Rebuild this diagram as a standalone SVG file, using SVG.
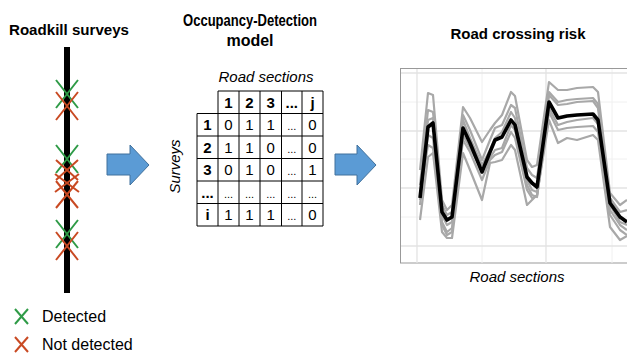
<svg xmlns="http://www.w3.org/2000/svg" width="627" height="355" viewBox="0 0 627 355">
<style>
.t{font-family:"Liberation Sans",Arial,sans-serif;fill:#000}
.b{font-weight:bold}
.i{font-style:italic}
.g{stroke:#2f9b47;stroke-width:2;fill:none}
.r{stroke:#c94a23;stroke-width:2;fill:none}
.arrow{fill:#5b9bd5;stroke:#41719c;stroke-width:1}
.cell{fill:none;stroke:#000;stroke-width:1}
.mj{stroke:#e3e3e3;stroke-width:1.3}
.mn{stroke:#f0f0f0;stroke-width:1}
.grey{fill:none;stroke:#a8a8a8;stroke-width:2.2;stroke-linejoin:round}
.blk{fill:none;stroke:#000;stroke-width:3.6;stroke-linejoin:round}
</style>
<defs>
<clipPath id="plotclip"><rect x="401" y="69" width="226" height="194"/></clipPath>
</defs>

<g id="roadkill-surveys">
<text class="t b" x="9" y="35" font-size="15" textLength="120" lengthAdjust="spacingAndGlyphs">Roadkill surveys</text>
<rect x="64" y="47" width="6" height="246" fill="#000"/>
<path class="g" d="M56 80L78 108M78 80L56 108"/>
<path class="r" d="M56 92L78 120M78 92L56 120"/>
<path class="g" d="M56 145L78 173M78 145L56 173"/>
<path class="r" d="M56 160L78 180M78 160L56 180"/>
<path class="r" d="M55 174L79 192M79 174L55 192"/>
<path class="r" d="M56 181L78 208M78 181L56 208"/>
<path class="g" d="M56 220L78 248M78 220L56 248"/>
<path class="r" d="M56 232L78 260M78 232L56 260"/>
</g>

<g id="legend">
<path class="g" d="M15 309L28 324M28 309L15 324" stroke-width="1.4"/>
<text class="t" x="42" y="322" font-size="16">Detected</text>
<path class="r" d="M15 337L28 352M28 337L15 352" stroke-width="1.4"/>
<text class="t" x="42" y="350" font-size="16">Not detected</text>
</g>

<g id="connectors">
<polygon class="arrow" points="107,154 130,154 130,145 149,165 130,185 130,175 107,175"/>
<polygon class="arrow" points="335,154 357,154 357,145 376,165 357,185 357,175 335,175"/>
</g>

<g id="occupancy-model">
<text class="t b" x="250" y="26" font-size="16" text-anchor="middle" textLength="134" lengthAdjust="spacingAndGlyphs">Occupancy-Detection</text>
<text class="t b" x="250" y="46" font-size="16" text-anchor="middle">model</text>
<text class="t i" x="266" y="82" font-size="15" text-anchor="middle">Road sections</text>
<text class="t i" transform="translate(180,166.5) rotate(-90)" font-size="15" text-anchor="middle">Surveys</text>
<g>
<path class="cell" d="M218 91H323V226H197V113.5H323M197 136H323M197 158.5H323M197 181H323M197 203.5H323M218 91V226M239 91V226M260 91V226M281.5 91V226M302 91V226"/>
</g>
<g class="t" font-size="15" text-anchor="middle">
<g class="b">
<text x="228.5" y="107.5">1</text><text x="249.5" y="107.5">2</text><text x="270.75" y="107.5">3</text><text x="291.75" y="107.5">...</text><text x="312.5" y="107.5">j</text>
<text x="207.5" y="130">1</text><text x="207.5" y="152.5">2</text><text x="207.5" y="175">3</text><text x="207.5" y="197.5">...</text><text x="207.5" y="220">i</text>
</g>
<text x="228.5" y="130">0</text><text x="249.5" y="130">1</text><text x="270.75" y="130">1</text><text x="291.75" y="130" font-size="11">...</text><text x="312.5" y="130">0</text>
<text x="228.5" y="152.5">1</text><text x="249.5" y="152.5">1</text><text x="270.75" y="152.5">0</text><text x="291.75" y="152.5" font-size="11">...</text><text x="312.5" y="152.5">0</text>
<text x="228.5" y="175">0</text><text x="249.5" y="175">1</text><text x="270.75" y="175">0</text><text x="291.75" y="175" font-size="11">...</text><text x="312.5" y="175">1</text>
<text x="228.5" y="197.5" font-size="11">...</text><text x="249.5" y="197.5" font-size="11">...</text><text x="270.75" y="197.5" font-size="11">...</text><text x="291.75" y="197.5" font-size="11">...</text><text x="312.5" y="197.5" font-size="11">...</text>
<text x="228.5" y="220">1</text><text x="249.5" y="220">1</text><text x="270.75" y="220">1</text><text x="291.75" y="220" font-size="11">...</text><text x="312.5" y="220">0</text>
</g>
</g>

<g id="road-crossing-risk">
<text class="t b" x="518" y="39" font-size="15" text-anchor="middle">Road crossing risk</text>
<rect x="400.5" y="68.5" width="240" height="194.5" fill="#fff" stroke="#999" stroke-width="1"/>
<g>
<path class="mn" d="M401 102H627M401 159H627M401 217H627M482 69V263M612 69V263"/>
<path class="mj" d="M401 73H627M401 131H627M401 188H627M401 246H627M417 69V263M546 69V263"/>
</g>
<g clip-path="url(#plotclip)">
<polyline class="grey" points="420,170 428,93 433,95 442,200 447,210 452,205 463,107 470,118 482,142 490,130 495,123 502,115 511,92 515,96 527,160 532,167 537,165 549,82 558,90 567,90 577,88 593,87 598,92 610,193 620,205 627,200"/>
<polyline class="grey" points="420,185 428,110 433,112 442,205 447,215 452,212 463,115 470,130 482,160 490,140 495,128 502,125 511,105 515,108 527,168 532,175 537,178 549,92 558,102 567,100 577,99 593,98 598,104 610,198 620,212 627,210"/>
<polyline class="grey" points="420,200 428,120 433,118 442,215 447,225 452,222 463,120 470,138 482,165 490,150 495,138 502,132 511,112 515,118 527,180 532,190 537,192 549,95 558,105 567,104 577,102 593,101 598,108 610,205 620,222 627,225"/>
<polyline class="grey" points="420,195 428,145 433,148 442,222 447,232 452,228 463,140 470,152 482,180 490,160 495,155 502,152 511,132 515,138 527,190 532,198 537,196 549,112 558,130 567,128 577,127 593,126 598,132 610,215 620,230 627,235"/>
<polyline class="grey" points="420,220 428,157 433,153 442,232 447,238 452,238 463,153 470,170 482,200 490,163 495,162 502,160 511,145 515,150 527,205 532,200 537,195 549,120 558,143 567,138 577,140 593,135 598,140 610,227 620,240 627,236"/>
<polyline class="grey" points="420,205 428,135 433,138 442,225 447,235 452,232 463,135 470,148 482,170 490,158 495,150 502,148 511,125 515,130 527,185 532,195 537,197 549,108 558,125 567,122 577,120 593,118 598,124 610,210 620,225 627,230"/>
<polyline class="blk" points="420,198 428,127 433,123 442,212 447,220 452,217 463,128 470,143 482,172 490,152 495,140 502,137 511,120 515,125 527,177 532,183 537,187 549,102 558,118 567,116 577,115 593,114 598,120 610,203 620,217 627,222"/>
</g>
<text class="t i" x="517" y="282" font-size="15" text-anchor="middle">Road sections</text>
</g>
</svg>
